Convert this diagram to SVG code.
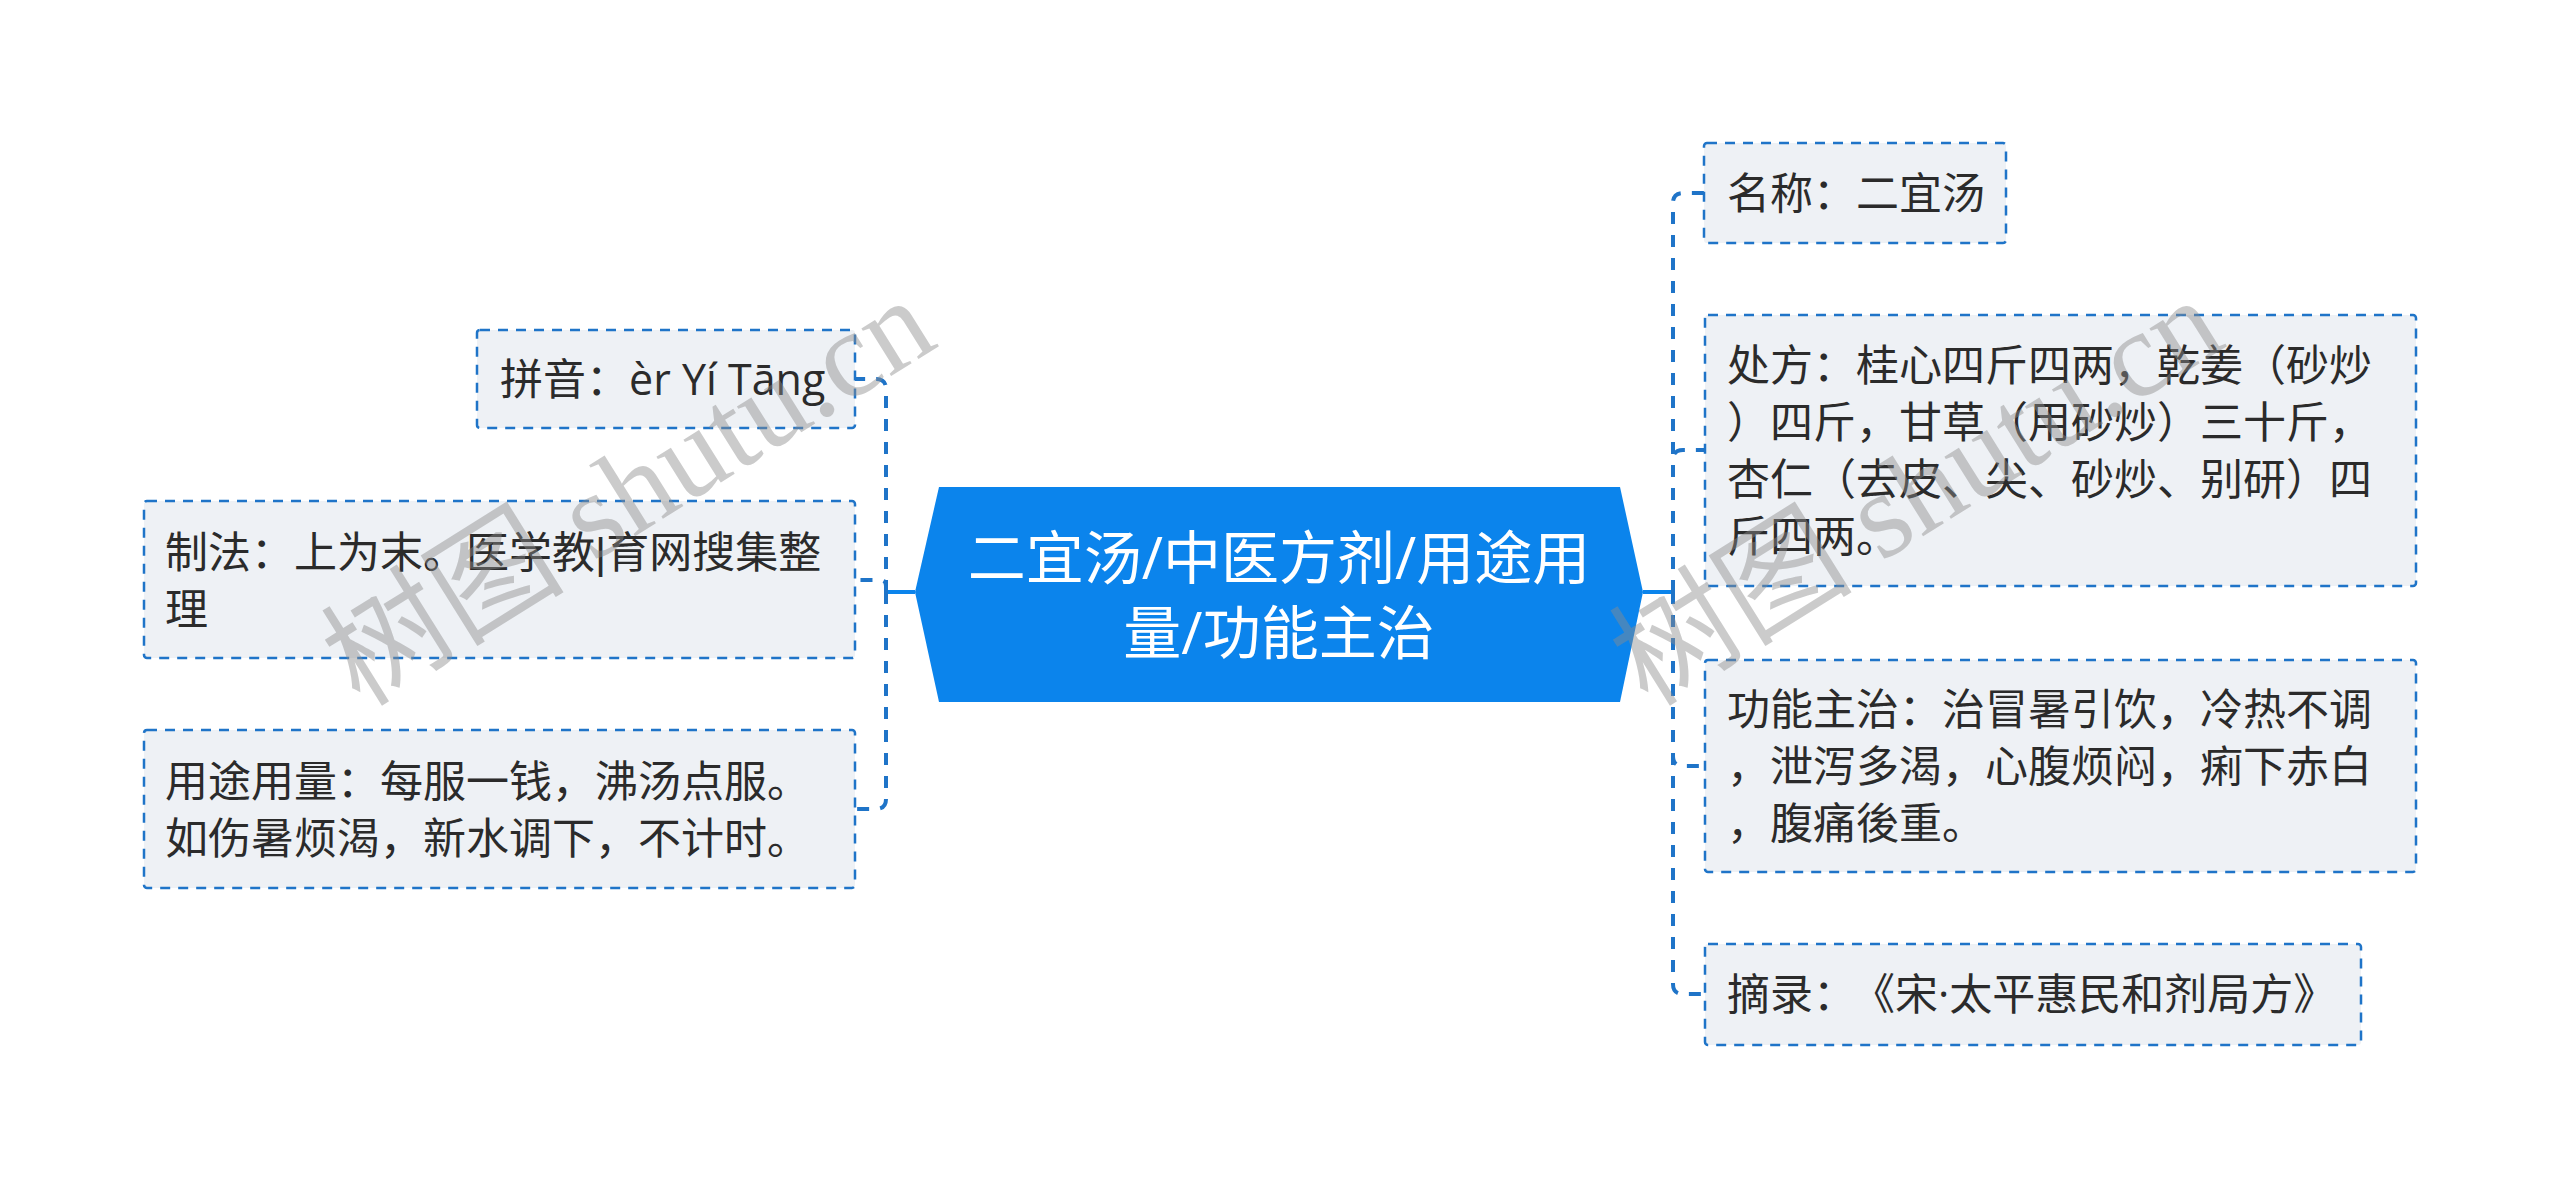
<svg xmlns="http://www.w3.org/2000/svg" width="2560" height="1189" viewBox="0 0 2560 1189">
<style>
.box{fill:#eef1f5;stroke:#1f74c8;stroke-width:2.5;stroke-dasharray:10 8}
.t{font-family:"Open Sans","Noto Sans CJK SC",sans-serif;font-size:43px;fill:#2b2b2b}
.ct{font-family:"Open Sans","Noto Sans CJK SC",sans-serif;font-size:58px;fill:#ffffff;text-anchor:middle}
.bar{font-family:"Liberation Sans",sans-serif}
.dash{fill:none;stroke:#1f74c8;stroke-width:4;stroke-dasharray:12 11}
.solid{fill:none;stroke:#0b84ec;stroke-width:4}
.wm{font-family:"Liberation Serif","Noto Sans CJK SC",serif;font-size:122px;fill:#8c8c8c;fill-opacity:0.45}
</style>
<rect width="2560" height="1189" fill="#ffffff"/>
<g id="connectors">
<path class="solid" d="M915,592 H886"/>
<path class="dash" d="M886,592 V389 Q886,379 876,379 H855"/>
<path class="dash" d="M886,592 V586 Q886,580 880,580 H855"/>
<path class="dash" d="M886,592 V799 Q886,809 876,809 H855"/>
<path class="solid" d="M1643,592 H1673"/>
<path class="dash" d="M1673,592 V203 Q1673,193 1683,193 H1704"/>
<path class="dash" d="M1673,592 V460 Q1673,450 1683,450 H1705"/>
<path class="dash" d="M1673,592 V756 Q1673,766 1683,766 H1705"/>
<path class="dash" d="M1673,592 V984 Q1673,994 1683,994 H1705"/>
</g>
<g id="center">
<polygon points="915,592 939,487 1620,487 1643,592 1620,702 939,702" fill="#0b84ec"/>
<text class="ct" x="1279" y="579">二宜汤/中医方剂/用途用</text>
<text class="ct" x="1279" y="654">量/功能主治</text>
</g>
<g id="pinyin">
<rect class="box" x="477" y="330" width="378" height="98" rx="3"/>
<text class="t" x="500" y="395">拼音：èr Yí Tāng</text>
</g>
<g id="zhifa">
<rect class="box" x="144" y="501" width="711" height="157" rx="3"/>
<text class="t" x="165" y="568">制法：上为末。医学教<tspan class="bar">|</tspan>育网搜集整</text>
<text class="t" x="165" y="625">理</text>
</g>
<g id="yongtu">
<rect class="box" x="144" y="730" width="711" height="158" rx="3"/>
<text class="t" x="165" y="797">用途用量：每服一钱，沸汤点服。</text>
<text class="t" x="165" y="854">如伤暑烦渴，新水调下，不计时。</text>
</g>
<g id="mingcheng">
<rect class="box" x="1704" y="143" width="302" height="100" rx="3"/>
<text class="t" x="1727" y="209">名称：二宜汤</text>
</g>
<g id="chufang">
<rect class="box" x="1705" y="315" width="711" height="271" rx="3"/>
<text class="t" x="1727" y="381">处方：桂心四斤四两，乾姜（砂炒</text>
<text class="t" x="1727" y="438">）四斤，甘草（用砂炒）三十斤，</text>
<text class="t" x="1727" y="495">杏仁（去皮、尖、砂炒、别研）四</text>
<text class="t" x="1727" y="552">斤四两。</text>
</g>
<g id="gongneng">
<rect class="box" x="1705" y="660" width="711" height="212" rx="3"/>
<text class="t" x="1727" y="725">功能主治：治冒暑引饮，冷热不调</text>
<text class="t" x="1727" y="782">，泄泻多渴，心腹烦闷，痢下赤白</text>
<text class="t" x="1727" y="839">，腹痛後重。</text>
</g>
<g id="zhailu">
<rect class="box" x="1705" y="944" width="656" height="101" rx="3"/>
<text class="t" x="1727" y="1010">摘录：</text>
<text class="t" x="1852" y="1010">《宋·太平惠民和剂局方》</text>
</g>
<g id="watermarks">
<text class="wm" transform="translate(360,708) rotate(-32)">树图 shutu.cn</text>
<text class="wm" transform="translate(1648,708) rotate(-32)">树图 shutu.cn</text>
</g>
</svg>
